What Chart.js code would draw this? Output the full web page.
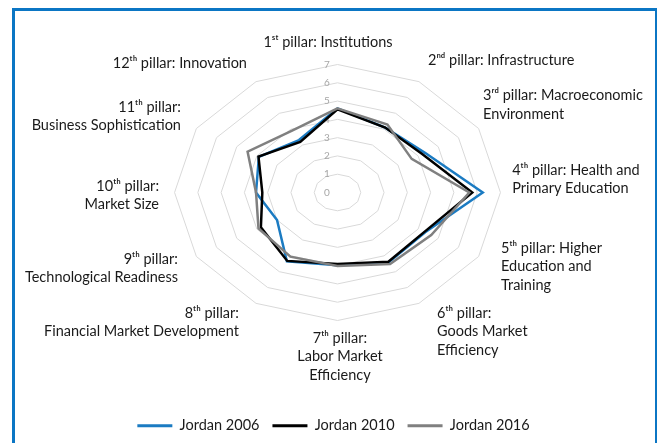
<!DOCTYPE html>
<html><head><meta charset="utf-8">
<script src="https://cdn.jsdelivr.net/npm/chart.js@4.4.1/dist/chart.umd.min.js"></script>
<style>
html,body{margin:0;padding:0;background:#fff;overflow:hidden;}
#wrap{position:relative;width:657px;height:443px;}
#frame{position:absolute;left:12px;top:8px;width:640px;height:480px;border:3px solid #0b76c4;border-bottom:none;pointer-events:none;}
canvas{position:absolute;left:0;top:0;}
</style></head><body>
<div id="wrap"><canvas id="c" width="657" height="443"></canvas><div id="frame"></div></div>
<script>
// ---- data ----
const pillarLabels = [
  '1\u02E2\u1D57 pillar: Institutions',
  '2\u207F\u1D48 pillar: Infrastructure',
  ['3\u02B3\u1D48 pillar: Macroeconomic', 'Environment'],
  ['4\u1D57\u02B0 pillar: Health and', 'Primary Education'],
  ['5\u1D57\u02B0 pillar: Higher', 'Education and', 'Training'],
  ['6\u1D57\u02B0 pillar:', 'Goods Market', 'Efficiency'],
  ['7\u1D57\u02B0 pillar:', 'Labor Market', 'Efficiency'],
  ['8\u1D57\u02B0 pillar:', 'Financial Market Development'],
  ['9\u1D57\u02B0 pillar:', 'Technological Readiness'],
  ['10\u1D57\u02B0 pillar:', 'Market Size'],
  ['11\u1D57\u02B0 pillar:', 'Business Sophistication'],
  '12\u1D57\u02B0 pillar: Innovation'
];
const seriesNames = ['Jordan 2006', 'Jordan 2010', 'Jordan 2016'];
const jordan2006 = [4.6, 4.1, 4.34, 6.24, 4.35, 4.4, 3.98, 4.35, 3.0, 3.5, 3.9, 3.31];
const jordan2010 = [4.55, 4.1, 4.2, 5.79, 4.31, 4.37, 3.91, 4.32, 3.8, 3.23, 3.92, 3.2];
const jordan2016 = [4.6, 4.29, 3.68, 5.66, 4.65, 4.52, 4.02, 4.05, 3.92, 3.5, 4.46, 3.9];
const scaleMax = 7;
const tickStep = 1;

// ---- layout (geometry of the stretched radar, label nudges) ----
const LAYOUT = {
  cx: 337.5, cy: 192.5, radius: 128, stretchX: 1.273, tickShiftX: -10.5,
  labelNudges: [[-9.5,-3],[2.7,-3.7],[-6.6,0],[-1,-13],[11.4,-22.75],[11.7,-8.3],
                [2.5,-1.75],[-10.7,-8.3],[-7.4,-11.75],[-2.8,2.75],[-4.4,11.25],[-2.7,0]]
};

class EllipseRadialScale extends Chart.RadialLinearScale {
  setCenterPoint() {
    this.xCenter = LAYOUT.cx;
    this.yCenter = LAYOUT.cy;
    this.drawingArea = LAYOUT.radius;
  }
  getPointPosition(index, distance, additionalAngle) {
    const p = super.getPointPosition(index, distance, additionalAngle);
    return {x: this.xCenter + (p.x - this.xCenter) * LAYOUT.stretchX, y: p.y, angle: p.angle};
  }
  fit() {
    super.fit();
    (this._pointLabelItems || []).forEach((it, i) => {
      const n = LAYOUT.labelNudges[i];
      if (!n) return;
      it.x += n[0]; it.left += n[0]; it.right += n[0];
      it.y += n[1]; it.top += n[1]; it.bottom += n[1];
    });
  }
  drawLabels() {
    this.ctx.save();
    this.ctx.translate(LAYOUT.tickShiftX, 0);
    super.drawLabels();
    this.ctx.restore();
  }
}
EllipseRadialScale.id = 'ellipseRadial';
Chart.register(EllipseRadialScale);

const FONT = "Lato, 'Noto Sans', 'DejaVu Sans', sans-serif";
const colors = ['#1b7bc2', '#000000', '#808080'];
const allSeries = [jordan2006, jordan2010, jordan2016];

new Chart(document.getElementById('c'), {
  type: 'radar',
  data: {
    labels: pillarLabels,
    datasets: allSeries.map((d, i) => ({
      label: seriesNames[i],
      data: d,
      borderColor: colors[i],
      backgroundColor: colors[i],
      borderWidth: 2.5,
      fill: false,
      tension: 0,
      pointRadius: 0,
      pointHoverRadius: 0,
      pointBorderWidth: 3,
      pointBorderColor: colors[i],
      order: 3 - i
    }))
  },
  options: {
    responsive: false,
    animation: false,
    events: [],
    layout: {padding: {left: 10, right: 0, top: 0, bottom: 0}},
    plugins: {
      legend: {
        position: 'bottom',
        reverse: true,
        labels: {
          usePointStyle: true,
          pointStyle: 'line',
          pointStyleWidth: 35,
          padding: 13,
          color: '#1a1a1a',
          font: {family: FONT, size: 14.5}
        }
      },
      tooltip: {enabled: false}
    },
    scales: {
      r: {
        type: 'ellipseRadial',
        min: -1e-9,
        max: scaleMax,
        angleLines: {display: false},
        grid: {color: '#d9d9d9', lineWidth: 1, circular: false},
        ticks: {
          stepSize: tickStep,
          showLabelBackdrop: false,
          color: '#a6a6a6',
          font: {family: FONT, size: 10},
          callback: v => String(Math.round(v))
        },
        pointLabels: {
          padding: 3,
          color: '#1a1a1a',
          font: {family: FONT, size: 14.5, lineHeight: '18.5px'}
        }
      }
    }
  }
});
</script>
</body></html>
